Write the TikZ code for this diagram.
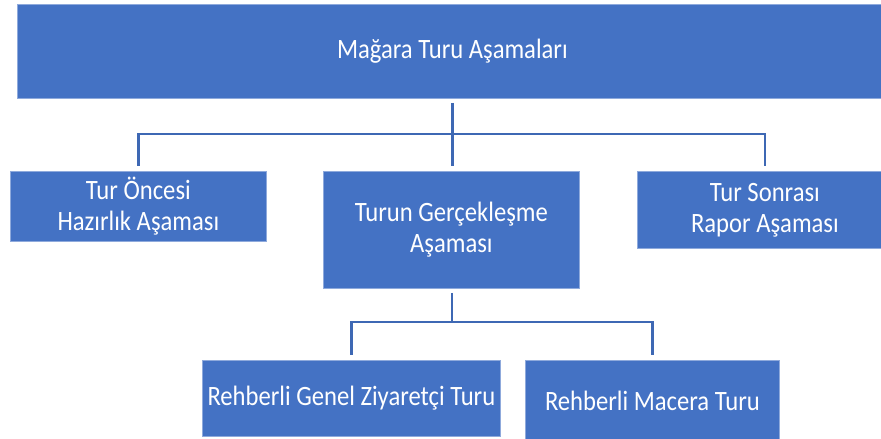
\documentclass[tikz,border=0pt]{standalone}
\usepackage{fontspec}
\setmainfont{Carlito}[FakeStretch=0.88]
\usetikzlibrary{positioning}

\definecolor{boxblue}{RGB}{68,114,196}
\definecolor{edgeblue}{RGB}{143,170,220}
\definecolor{lineblue}{RGB}{62,104,180}

\begin{document}
\begin{tikzpicture}[
    x=1pt, y=1pt,
    stage/.style={rectangle, draw=edgeblue, line width=0.8pt, fill=boxblue, text=white, align=center, inner sep=0pt, anchor=north west, font=\fontsize{28}{31}\selectfont},
    link/.style={draw=lineblue, line width=2.2pt}
]
\clip (0,0) rectangle (881,439);
\fill[white] (0,0) rectangle (881,439);

% Top level
\node[stage, minimum width=870pt, minimum height=94pt] (mt) at (17,435) {Mağara Turu Aşamaları};

% Second level
\node[stage, minimum width=256pt, minimum height=70pt] (oncesi) at (10,268) {Tur Öncesi\\Hazırlık Aşaması};
\node[stage, minimum width=256pt, minimum height=117pt] (gercek) at (323,268) {Turun Gerçekleşme\\Aşaması};
\node[stage, minimum width=255pt, minimum height=77pt] (sonrasi) at (637,268) {Tur Sonrası\\Rapor Aşaması};

% Third level
\node[stage, minimum width=298pt, minimum height=76pt] (genel) at (202,79) {Rehberli Genel Ziyaretçi Turu};
\node[stage, minimum width=254pt, minimum height=81pt] (macera) at (525,79) {Rehberli Macera Turu};

% Connectors
\coordinate (hub1) at (452,305);
\coordinate (hub2) at (452,117);
\draw[link] ([yshift=-4pt]mt.south) -- ([yshift=5pt]mt.south |- gercek.north);
\draw[link] ([yshift=5pt]oncesi.north) |- (hub1) -| ([yshift=5pt]sonrasi.north);
\draw[link] ([yshift=-4pt]gercek.south -| hub2) -- (hub2);
\draw[link] ([yshift=5pt]genel.north) |- (hub2) -| ([yshift=5pt]macera.north);

\end{tikzpicture}
\end{document}
